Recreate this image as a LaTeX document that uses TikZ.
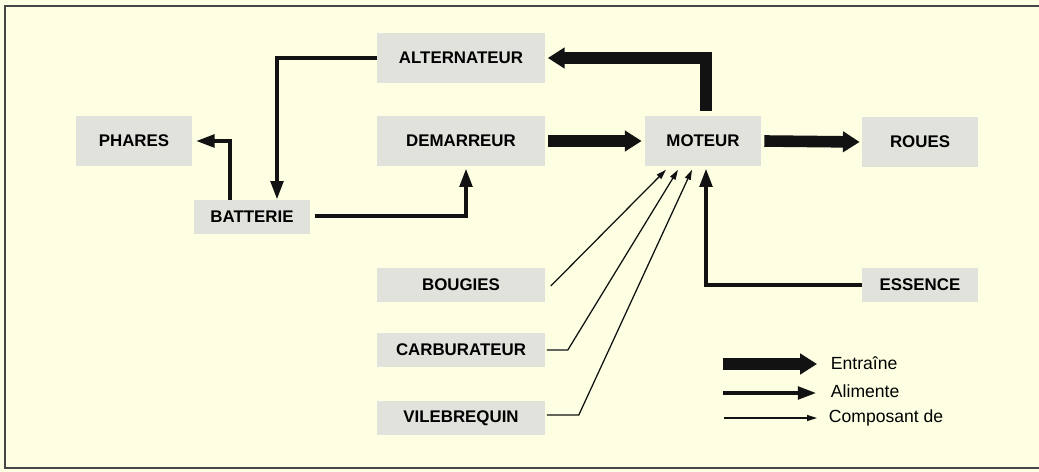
\documentclass[tikz,border=0pt]{standalone}
\usepackage{fontspec}
\setmainfont{Liberation Sans}
\usetikzlibrary{arrows.meta,calc,positioning}

\definecolor{paper}{RGB}{254,254,226}
\definecolor{boxgray}{RGB}{226,226,221}
\definecolor{framegray}{RGB}{70,70,70}
\definecolor{ink}{RGB}{18,18,18}

\begin{document}
\begin{tikzpicture}[x=0.025cm,y=-0.025cm,
    box/.style={fill=boxgray,inner sep=0pt,font=\fontsize{12}{14}\selectfont\bfseries},
    tall/.style={minimum height=1.225cm},
    short/.style={minimum height=0.825cm},
    wide/.style={minimum width=4.175cm},
    narrow/.style={minimum width=2.9cm},
    entraine/.style={draw=ink,line width=0.29cm,-{Triangle[length=0.42cm,width=0.5cm]}},
    alimente/.style={draw=ink,line width=0.12cm,-{Triangle[length=0.48cm,width=0.3cm]}},
    composant/.style={draw=ink,line width=0.9pt,-{Triangle[length=0.25cm,width=0.15cm]}},
    legtext/.style={anchor=west,font=\fontsize{12.5}{14}\selectfont}]
  % Background and frame
  \fill[paper] (0,0) rectangle (1039,472);
  \useasboundingbox (0,0) rectangle (1039,472);
  \draw[framegray,line width=0.05cm] (1039,6) -- (5,6) -- (5,468) -- (1039,468);
  % Boxes
  \node[box,tall,wide] (alt) at (461,58) {ALTERNATEUR};
  \node[box,tall,narrow] (pha) at (134,141) {PHARES};
  \node[box,tall,wide] (dem) at (461,141) {DEMARREUR};
  \node[box,tall,narrow] (mot) at (703,141) {MOTEUR};
  \node[box,tall,narrow] (rou) at (920,142) {ROUES};
  \node[box,short,narrow] (bat) at (252,217) {BATTERIE};
  \node[box,short,wide] (bou) at (461,285) {BOUGIES};
  \node[box,short,narrow] (ess) at (920,285) {ESSENCE};
  \node[box,short,wide] (car) at (461,350) {CARBURATEUR};
  \node[box,short,wide] (vil) at (461,418) {VILEBREQUIN};
  % Entraine
  \draw[entraine] (dem.east) ++(3,0) -- ($(mot.west)+(-3,0)$);
  \draw[entraine] (mot.east) ++(3,0) -- ($(rou.west)+(-2,0)$);
  \draw[entraine] ($(mot.north)+(3,-5)$) |- ($(alt.east)+(3,0)$);
  % Alimente
  \draw[alimente] (alt.west) -| ($(bat.north)+(25,0)$);
  \draw[alimente] ($(bat.north)+(-22,0)$) |- ($(pha.east)+(3,0)$);
  \draw[alimente] ($(bat.east)+(5,-1)$) -| ($(dem.south)+(5,2)$);
  \draw[alimente] (ess.west) -| ($(mot.south)+(3,2)$);
  % Composant de
  \draw[composant] ($(bou.east)+(6,1)$) -- ($(mot.south)+(-37,4)$);
  \draw[composant] ($(car.east)+(2,0)$) -- ++(21,0) -- ($(mot.south)+(-25,4)$);
  \draw[composant] ($(vil.east)+(2,-3)$) -- ++(32,0) -- ($(mot.south)+(-11,4)$);
  % Legend
  \coordinate (e1) at (723,364);
  \coordinate (e2) at (817,364);
  \coordinate (a1) at (723,393);
  \coordinate (a2) at (817,393);
  \coordinate (c1) at (724,418);
  \coordinate (c2) at (817,418);
  \draw[entraine] (e1) -- (e2);
  \draw[alimente] (a1) -- (a2);
  \draw[composant] (c1) -- (c2);
  \node[legtext] (le) at (826,363) {Entraîne};
  \node[legtext] (la) at (826,391) {Alimente};
  \node[legtext] (lc) at (824,418) {Composant de};
\end{tikzpicture}
\end{document}
